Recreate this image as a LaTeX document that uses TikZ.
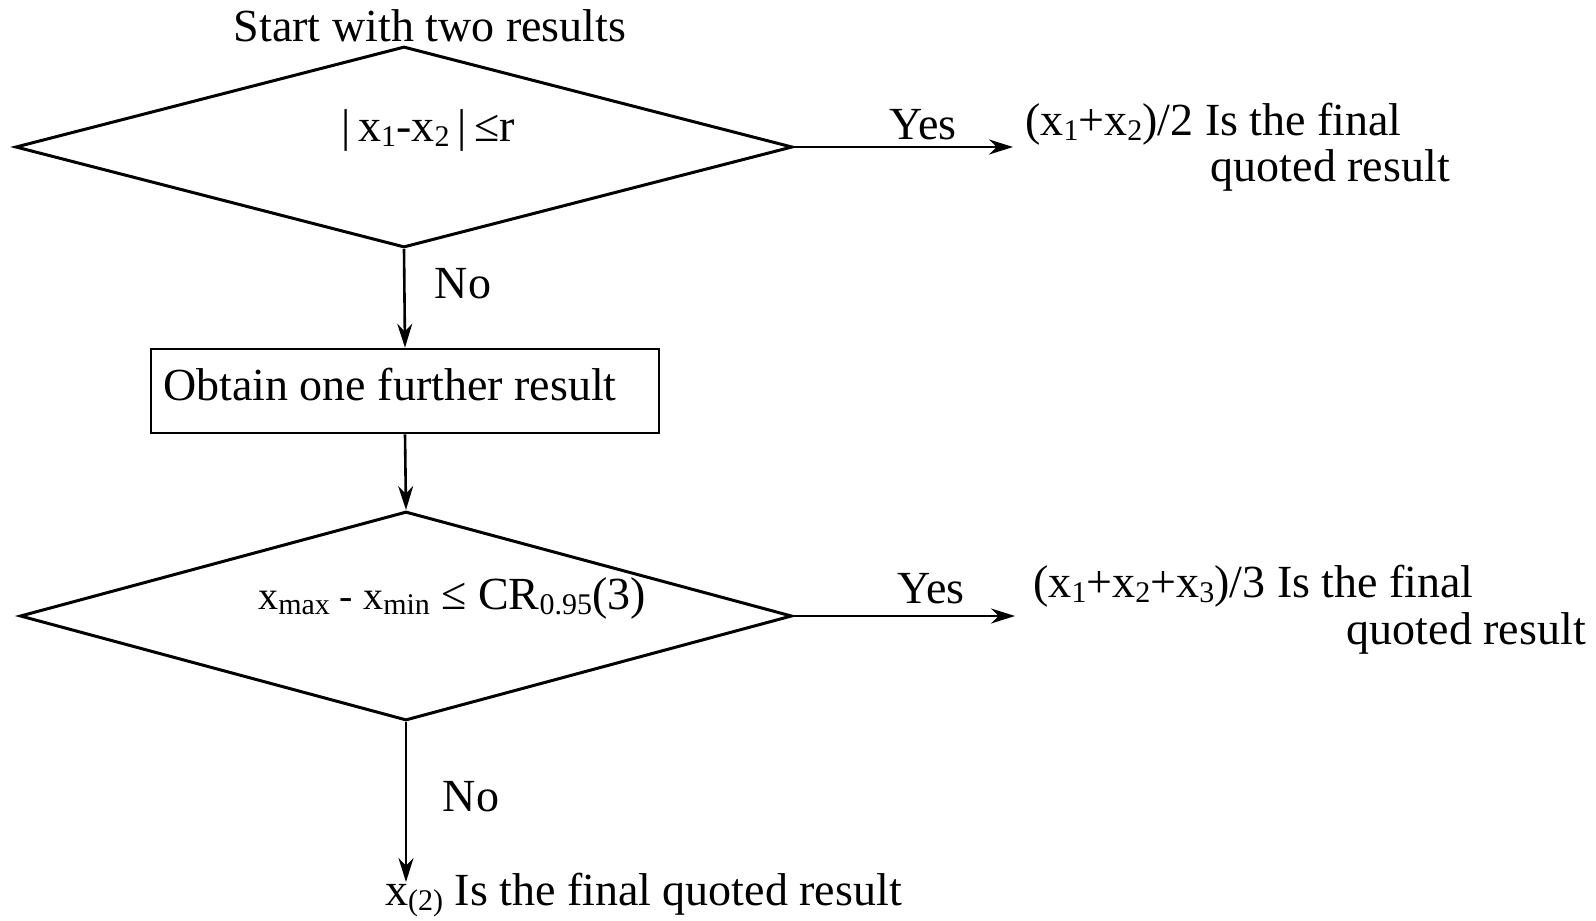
\documentclass[tikz,border=0pt]{standalone}
\usepackage{fontspec}
\setmainfont{Liberation Serif}
\usetikzlibrary{arrows.meta,shapes.geometric}
\newcommand{\lowsub}[1]{\raisebox{-5pt}{\fontsize{30}{32}\selectfont #1}}
\begin{document}
\begin{tikzpicture}[x=1pt,y=-1pt,
  every node/.style={font=\fontsize{46}{52}\selectfont, inner sep=0pt},
  dia/.style={draw, diamond, line width=3pt, minimum width=#1},
  box/.style={draw, rectangle, line width=2.6pt},
  arr/.style={line width=2.6pt, -{Stealth[length=24pt,width=15pt]}},
  lbl/.style={anchor=base}]
\useasboundingbox (0,0) rectangle (1596,921);
% title
\node[lbl] (start) at (430,41) {Start with two results};
% first decision
\node[dia=777pt, minimum height=201pt] (d1) at (404,147) {};
\node[lbl] (t1) at (428,141) {|\,x\lowsub{1}-x\lowsub{2}\,|\,≤r};
\coordinate (y1end) at (1013,147);
\draw[arr] (d1.east) -- (y1end);
\node[lbl] (yes1) at (923,139) {Yes};
\node[anchor=base west] (r1a) at (1025,135) {(x\lowsub{1}+x\lowsub{2})/2 Is the final};
\node[anchor=base east] (r1b) at (1450,181) {quoted result};
% process box
\node[box, minimum width=508pt, minimum height=84pt] (box) at (405,391) {};
\node[anchor=base west] (boxt) at (163,400) {Obtain one further result};
\draw[arr] (d1.south) -- (box.north);
\node[lbl] (no1) at (463,298) {No};
% second decision
\node[dia=772pt, minimum height=209pt] (d2) at (406,616) {};
\draw[arr] (box.south) -- (d2.north);
\node[lbl] (t2) at (452,609) {{\fontsize{40}{46}\selectfont x\lowsub{max} - x\lowsub{min}} ≤ CR\lowsub{0.95}(3)};
\coordinate (y2end) at (1015,616);
\draw[arr] (d2.east) -- (y2end);
\node[lbl] (yes2) at (931,603) {Yes};
\node[anchor=base west] (r2a) at (1033,597) {(x\lowsub{1}+x\lowsub{2}+x\lowsub{3})/3 Is the final};
\node[anchor=base east] (r2b) at (1586,644) {quoted result};
% final
\coordinate (n2end) at (406,882);
\draw[arr] (d2.south) -- (n2end);
\node[lbl] (no2) at (471,811) {No};
\node[anchor=base west] (fin) at (385,905) {x\lowsub{(2)} Is the final quoted result};
\end{tikzpicture}
\end{document}
